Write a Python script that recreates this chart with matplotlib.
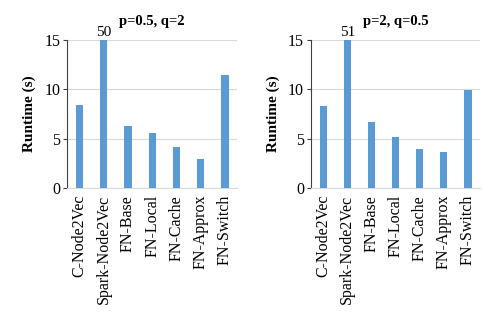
import matplotlib
matplotlib.use('Agg')
import matplotlib.pyplot as plt

plt.rcParams['font.family'] = 'Liberation Serif'

methods = ['C-Node2Vec', 'Spark-Node2Vec', 'FN-Base', 'FN-Local', 'FN-Cache', 'FN-Approx', 'FN-Switch']
runtime_a = [8.4, 50, 6.3, 5.6, 4.2, 2.9, 11.5]
runtime_b = [8.3, 51, 6.7, 5.2, 4.0, 3.7, 9.9]
titles = ['p=0.5, q=2', 'p=2, q=0.5']

fig = plt.figure(figsize=(4.83, 3.16), dpi=100)
ax1 = fig.add_axes([0.139, 0.405, 0.352, 0.468])
ax2 = fig.add_axes([0.644, 0.405, 0.350, 0.468])

for ax, vals, title in zip([ax1, ax2], [runtime_a, runtime_b], titles):
    x = range(len(methods))
    ax.bar(x, vals, width=0.3, color='#5B9BD5', zorder=3)
    ax.set_ylim(0, 15)
    ax.set_xlim(-0.5, len(methods) - 0.5)
    ax.set_yticks([0, 5, 10, 15])
    ax.set_xticks(list(x))
    ax.set_xticklabels(methods, rotation=90, fontsize=11.5)
    ax.tick_params(axis='y', labelsize=11.5, length=3, color='#404040', pad=2)
    ax.tick_params(axis='x', length=0, pad=5)
    ax.grid(axis='y', color='#d9d9d9', linewidth=0.8, zorder=0)
    for s in ['top', 'right']:
        ax.spines[s].set_visible(False)
    ax.spines['bottom'].set_color('#d9d9d9')
    ax.spines['left'].set_color('#404040')
    ax.set_ylabel('Runtime (s)', fontsize=11, fontweight='bold', labelpad=6)
    ax.set_title(title, fontsize=10.5, fontweight='bold', pad=11)
    for i, v in enumerate(vals):
        if v > 15:
            ax.text(i, 15.1, str(v), ha='center', va='bottom', fontsize=11)

fig.savefig('out.png', dpi=100)
